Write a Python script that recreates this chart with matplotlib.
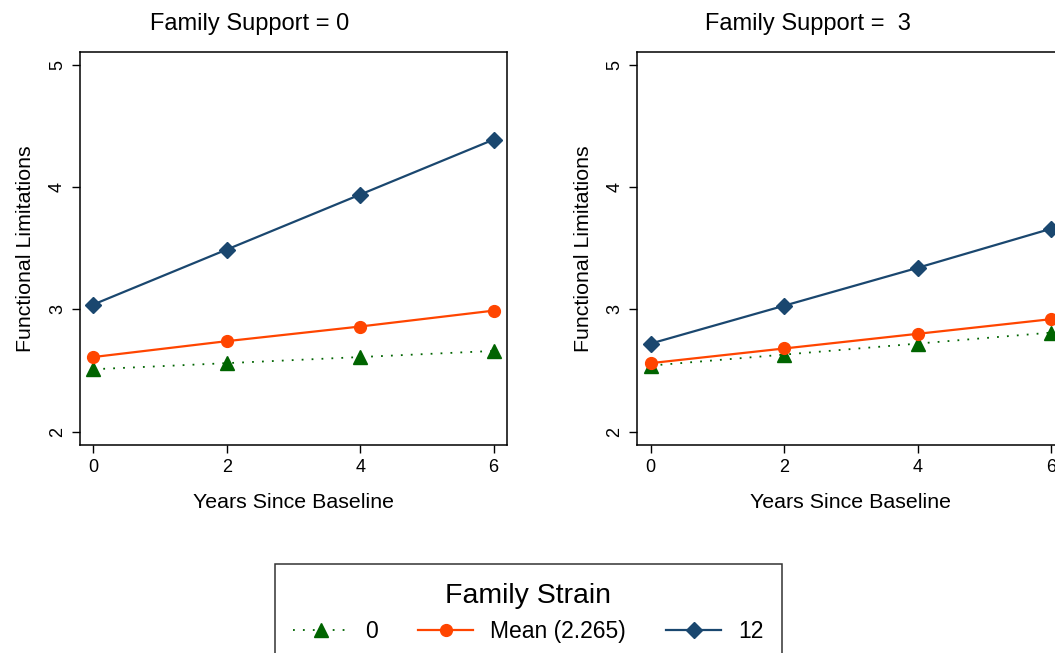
import numpy as np
import matplotlib.pyplot as plt

plt.rcParams['font.family'] = ['Liberation Sans', 'DejaVu Sans']

# data
years = [0, 2, 4, 6]
panels = ["Family Support = 0", "Family Support =  3"]
strain_labels = ["0", "Mean (2.265)", "12"]

# predicted functional limitations, support = 0
low_s0 = [2.51, 2.56, 2.61, 2.66]
mean_s0 = [2.61, 2.74, 2.86, 2.99]
high_s0 = [3.04, 3.49, 3.94, 4.39]

# support = 3
low_s3 = [2.54, 2.63, 2.72, 2.81]
mean_s3 = [2.56, 2.68, 2.80, 2.92]
high_s3 = [2.72, 3.03, 3.34, 3.66]

series = [(low_s0, mean_s0, high_s0), (low_s3, mean_s3, high_s3)]

green = '#006400'
orange = '#ff4500'
navy = '#1a476f'

W, H = 1055, 653
fig = plt.figure(figsize=(W / 100, H / 100), dpi=100)

# axes frames in pixels (left, top, right, bottom)
frames = [(80, 52, 507, 445), (637.3, 52, 1064.3, 445)]
title_x = [250, 808]

handles = None
for k, (l, t, r, b) in enumerate(frames):
    ax = fig.add_axes([l / W, 1 - b / H, (r - l) / W, (b - t) / H])
    low, mean, high = series[k]
    h1, = ax.plot(years, low, color=green, lw=1.3, ls=(0, (1, 4.5)),
                  marker='^', ms=10.5, mfc=green, mec=green)
    h2, = ax.plot(years, mean, color=orange, lw=1.6,
                  marker='o', ms=8.5, mfc=orange, mec=orange)
    h3, = ax.plot(years, high, color=navy, lw=1.6,
                  marker='D', ms=8.2, mfc=navy, mec=navy)
    handles = [h1, h2, h3]

    ax.set_xlim(-0.2, 6.2)
    ax.set_ylim(1.89, 5.107)
    ax.set_xticks([0, 2, 4, 6])
    ax.set_yticks([2, 3, 4, 5])
    ax.tick_params(direction='out', length=6, width=1, labelsize=13, pad=4)
    for lab in ax.get_yticklabels():
        lab.set_rotation(90)
        lab.set_va('center')
    for sp in ax.spines.values():
        sp.set_linewidth(1.1)
    ax.set_xlabel("Years Since Baseline", fontsize=15.4, labelpad=12)
    ax.set_ylabel("Functional Limitations", fontsize=15.4, labelpad=10)
    fig.text(title_x[k] / W, 1 - 24 / H, panels[k], fontsize=17,
             ha='center', va='center')

lx0, ly0, lw_ = 274.7, 564.3, 507.6
leg = fig.legend(handles, strain_labels, loc='upper left',
                 bbox_to_anchor=(lx0 / W, 1 - ly0 / H - 0.3, lw_ / W, 0.3),
                 mode='expand', ncol=3, title="Family Strain",
                 fontsize=16.5, title_fontsize=20.5, frameon=True,
                 fancybox=False, edgecolor='black', borderaxespad=0,
                 handlelength=2.4, handletextpad=0.75, columnspacing=2.0,
                 borderpad=0.8)
leg.get_frame().set_linewidth(1.1)

fig.savefig('out.png', dpi=100)
